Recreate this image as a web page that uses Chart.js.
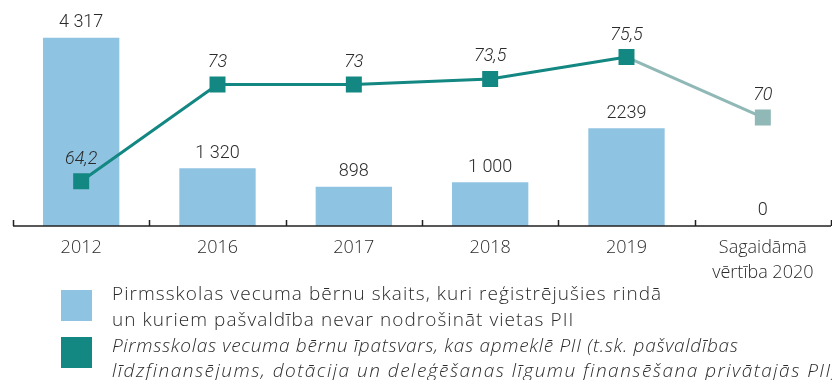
<!DOCTYPE html>
<html>
<head>
<meta charset="utf-8">
<title>Pirmsskolas vecuma bērni</title>
<script src="https://cdn.jsdelivr.net/npm/chart.js@4.4.0/dist/chart.umd.min.js"></script>
<style>
  body { margin: 0; background: #fff; }
  #wrap { position: relative; width: 832px; height: 380px; overflow: hidden;
          font-family: "Open Sans", sans-serif; color: #2b2b2b; }
  #chartBox { position: absolute; left: 0; top: 0; width: 832px; height: 287px; }
  .swatch { position: absolute; left: 61px; width: 31px; height: 31px; }
  .legtext { position: absolute; left: 112px; font-size: 19px; font-weight: 300; line-height: 25.5px;
             letter-spacing: 1.05px; white-space: nowrap; }
  .legtext.it { font-style: italic; letter-spacing: 0.7px; }
</style>
</head>
<body>
<div id="wrap">
  <div id="chartBox"><canvas id="myChart"></canvas></div>
  <div class="swatch" style="top:290px;background:#8fc3e2"></div>
  <div class="legtext" style="top:281px">Pirmsskolas vecuma bērnu skaits, kuri reģistrējušies rindā<br>un kuriem pašvaldība nevar nodrošināt vietas PII</div>
  <div class="swatch" style="top:337px;background:#138781"></div>
  <div class="legtext it" style="top:332.5px">Pirmsskolas vecuma bērnu īpatsvars, kas apmeklē PII (t.sk. pašvaldības</div>
  <div class="legtext it" style="top:358px;letter-spacing:1.5px">līdzfinansējums, dotācija un deleģēšanas līgumu finansēšana privātajās PII)</div>
</div>
<script>
  const NUM_FONT = '"Roboto", sans-serif';
  const LABEL_FONT = '"Open Sans", sans-serif';

  // --- DATI ---
  const years = ["2012", "2016", "2017", "2018", "2019", ["Sagaidāmā", "vērtība 2020"]];
  const queueCounts = [4317, 1320, 898, 1000, 2239, 0];
  const queueText = ["4 317", "1 320", "898", "1 000", "2239", "0"];
  const shareValues = [64.2, 73, 73, 73.5, 75.5, 70];

  const teal = "#138781";
  const tealPale = "#8fb8b6";
  const blue = "#8fc3e2";

  const formatShare = (v) => String(v).replace(".", ",");

  // ass ar iekšējām atzīmēm starp kategorijām
  const axisLine = {
    id: "axisLine",
    afterDatasetsDraw(chart) {
      const { ctx, chartArea } = chart;
      const n = years.length;
      const step = (chartArea.right - chartArea.left) / n;
      ctx.save();
      ctx.strokeStyle = "#222";
      ctx.lineWidth = 1.5;
      ctx.beginPath();
      ctx.moveTo(chartArea.left, chartArea.bottom);
      ctx.lineTo(chartArea.right, chartArea.bottom);
      for (let i = 0; i <= n; i++) {
        const x = Math.round(chartArea.left + i * step) + 0.5;
        ctx.moveTo(x, chartArea.bottom);
        ctx.lineTo(x, chartArea.bottom - 6);
      }
      ctx.stroke();
      ctx.restore();
    },
  };

  // vērtību uzraksti virs stabiņiem un punktiem
  const valueLabels = {
    id: "valueLabels",
    afterDatasetsDraw(chart) {
      const ctx = chart.ctx;
      ctx.save();
      ctx.textAlign = "center";
      ctx.textBaseline = "middle";
      ctx.fillStyle = "#2b2b2b";
      ctx.font = "300 18px " + NUM_FONT;
      chart.getDatasetMeta(1).data.forEach((bar, i) => {
        ctx.fillText(queueText[i], bar.x, bar.y - 15);
      });
      ctx.font = "italic 300 18px " + NUM_FONT;
      chart.getDatasetMeta(0).data.forEach((pt, i) => {
        ctx.fillText(formatShare(shareValues[i]), pt.x, pt.y - 22);
      });
      ctx.restore();
    },
  };

  const ctx = document.getElementById("myChart").getContext("2d");
  new Chart(ctx, {
    data: {
      labels: years,
      datasets: [
        {
          type: "line",
          label: "Īpatsvars",
          data: shareValues,
          yAxisID: "yShare",
          order: 0,
          borderColor: teal,
          borderWidth: 3,
          pointStyle: "rect",
          pointRadius: 11.3,
          pointBorderWidth: 0,
          pointBackgroundColor: shareValues.map((v, i) => (i === shareValues.length - 1 ? tealPale : teal)),
          segment: {
            borderColor: (c) => (c.p1DataIndex === shareValues.length - 1 ? tealPale : teal),
          },
          tension: 0,
        },
        {
          type: "bar",
          label: "Rindā",
          data: queueCounts,
          yAxisID: "yBars",
          order: 1,
          backgroundColor: blue,
          barPercentage: 0.56,
          categoryPercentage: 1,
        },
      ],
    },
    options: {
      responsive: true,
      maintainAspectRatio: false,
      animation: false,
      layout: { autoPadding: false, padding: { left: 13, right: 1, top: 0, bottom: 0 } },
      plugins: { legend: { display: false }, tooltip: { enabled: false } },
      scales: {
        x: {
          grid: { display: false },
          border: { display: false },
          ticks: {
            color: "#2b2b2b",
            padding: 1,
            maxRotation: 0,
            autoSkip: false,
            font: { family: LABEL_FONT, size: 18, weight: 300, lineHeight: 1.42 },
          },
        },
        yBars: { display: false, position: "left", min: 0, max: 5180 },
        yShare: { display: false, position: "right", min: 60.13, max: 80.69 },
      },
    },
    plugins: [axisLine, valueLabels],
  });
</script>
</body>
</html>
